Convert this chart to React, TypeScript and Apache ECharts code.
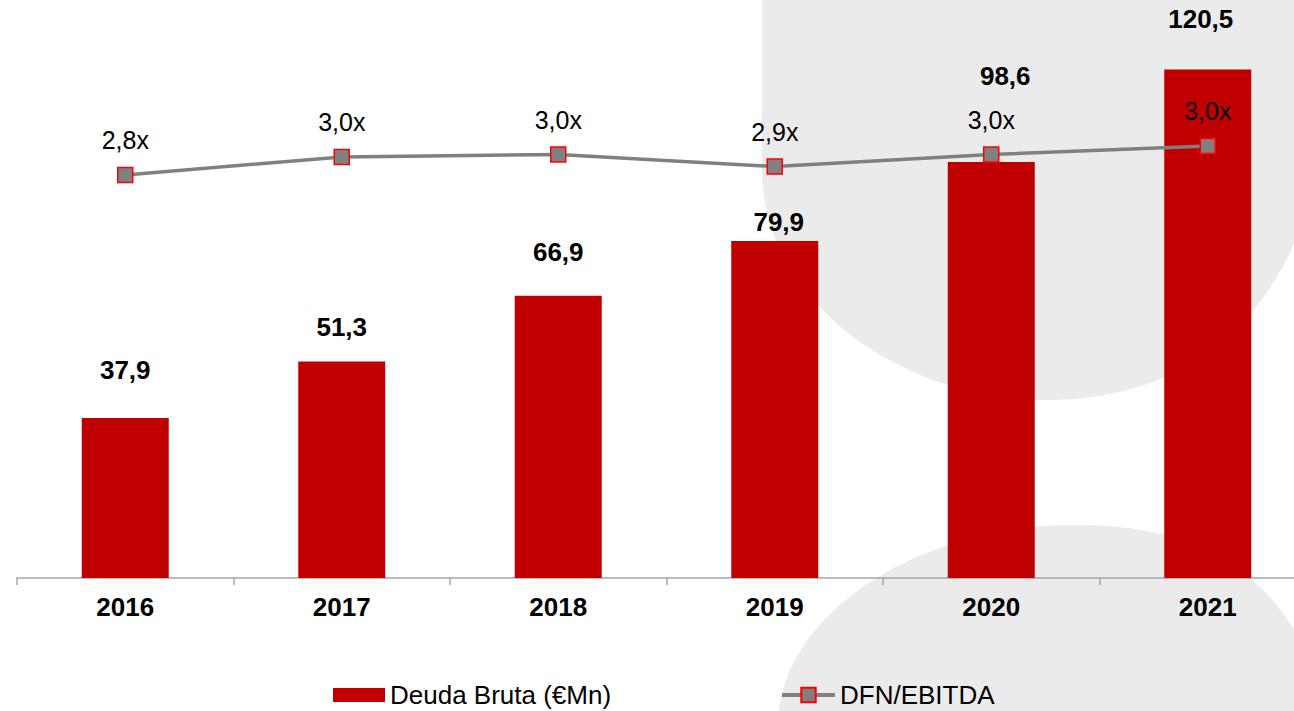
import React, { useEffect, useRef } from "react";
import * as echarts from "echarts";

const categories = ["2016", "2017", "2018", "2019", "2020", "2021"];
const deudaBruta = [37.9, 51.3, 66.9, 79.9, 98.6, 120.5];
const dfnEbitda = [2.8, 2.95, 2.97, 2.87, 2.97, 3.04];
// manual placement of each bar's value label, as in the source: lift above the bar and sideways shift (px)
const barLabelLift = [35, 22, 31, 6, 73, 38];
const barLabelShift = [0, 0, 0, 4, 14, -7];

const BAR_NAME = "Deuda Bruta (€Mn)";
const LINE_NAME = "DFN/EBITDA";
const FONT = "'Liberation Sans', Arial, sans-serif";

const fmt = (v: number) => v.toFixed(1).replace(".", ",");

let registered = false;
function registerShapes() {
  if (registered) return;
  registered = true;
  echarts.graphic.registerShape(
    "blobTop",
    echarts.graphic.extendPath(
      "M762,-5 L762,170 C762,300 900,400 1045,400 C1180,400 1260,330 1300,230 L1320,230 L1320,-5 Z",
      {}
    )
  );
  echarts.graphic.registerShape(
    "blobBottom",
    echarts.graphic.extendPath(
      "M775,720 L779,711 C790,610 920,525 1075,525 C1170,525 1250,550 1300,640 L1320,680 L1320,720 Z",
      {}
    )
  );
}

export default function App() {
  const ref = useRef<HTMLDivElement>(null);
  useEffect(() => {
    if (!ref.current) return;
    registerShapes();
    const chart = echarts.init(ref.current, undefined, { renderer: "svg" });
    chart.setOption({
      animation: false,
      backgroundColor: "#ffffff",
      textStyle: { fontFamily: FONT },
      graphic: [
        { type: "blobTop", x: 0, y: 0, z: -10, silent: true, style: { fill: "#ebebeb" } },
        { type: "blobBottom", x: 0, y: 0, z: -10, silent: true, style: { fill: "#ebebeb" } },
      ],
      grid: { left: 17, right: 0, top: 0, bottom: 133, containLabel: false },
      legend: [
        {
          data: [{ name: BAR_NAME, icon: "rect" }],
          left: 328,
          top: 677,
          itemWidth: 52,
          itemHeight: 14,
          itemGap: 5,
          textStyle: { fontSize: 26, color: "#000", fontFamily: FONT },
        },
        {
          data: [LINE_NAME],
          left: 775,
          top: 677,
          itemWidth: 53,
          itemHeight: 18,
          lineStyle: { width: 4 },
          textStyle: { fontSize: 26, color: "#000", fontFamily: FONT },
        },
      ],
      xAxis: {
        type: "category",
        data: categories,
        axisLine: { show: true, lineStyle: { color: "#a6a6a6", width: 1.5 } },
        axisTick: { show: true, length: 7, lineStyle: { color: "#a6a6a6", width: 1.5 } },
        axisLabel: {
          margin: 16,
          fontSize: 26,
          fontWeight: "bold",
          color: "#000",
          fontFamily: FONT,
        },
        splitLine: { show: false },
      },
      yAxis: [
        { type: "value", min: 0, max: 137, show: false, splitLine: { show: false } },
        { type: "value", min: -0.536, max: 4.249, show: false, splitLine: { show: false } },
      ],
      series: [
        {
          name: BAR_NAME,
          type: "bar",
          yAxisIndex: 0,
          barWidth: 87,
          itemStyle: { color: "#c00000" },
          data: deudaBruta.map((v, i) => ({
            value: v,
            label: { distance: barLabelLift[i], offset: [barLabelShift[i], 0] },
          })),
          label: {
            show: true,
            position: "top",
            fontSize: 26,
            fontWeight: "bold",
            color: "#000",
            fontFamily: FONT,
            formatter: (p: any) => fmt(p.value),
          },
          z: 2,
        },
        {
          name: LINE_NAME,
          type: "line",
          yAxisIndex: 1,
          data: dfnEbitda,
          symbol: "rect",
          symbolSize: 15,
          lineStyle: { color: "#808080", width: 3.5 },
          itemStyle: { color: "#808080", borderColor: "#ff0000", borderWidth: 1.5 },
          label: {
            show: true,
            position: "top",
            distance: 14,
            fontSize: 25,
            color: "#000",
            fontFamily: FONT,
            formatter: (p: any) => fmt(p.value) + "x",
          },
          z: 3,
        },
      ],
    });
    return () => chart.dispose();
  }, []);
  return (
    <div
      style={{
        position: "absolute",
        left: 0,
        top: 0,
        width: 1294,
        height: 711,
        overflow: "hidden",
      }}
    >
      <div ref={ref} style={{ width: 1316, height: 711 }} />
    </div>
  );
}
